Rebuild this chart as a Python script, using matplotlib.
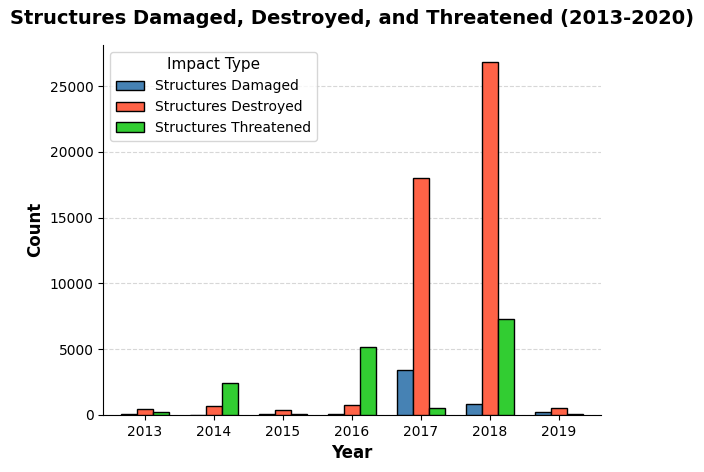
import numpy as np
import matplotlib
matplotlib.use("Agg")
import matplotlib.pyplot as plt

years = ["2013", "2014", "2015", "2016", "2017", "2018", "2019"]
damaged = [70, 20, 60, 50, 3430, 840, 230]
destroyed = [435, 690, 360, 760, 17980, 26800, 510]
threatened = [230, 2440, 60, 5180, 510, 7320, 60]

fig, ax = plt.subplots(figsize=(7.04, 4.72), dpi=100)
x = np.arange(len(years))
w = 0.7 / 3

ax.bar(x - w, damaged, w, color="#4682B4", edgecolor="black", label="Structures Damaged", zorder=3)
ax.bar(x, destroyed, w, color="#FF6347", edgecolor="black", label="Structures Destroyed", zorder=3)
ax.bar(x + w, threatened, w, color="#32CD32", edgecolor="black", label="Structures Threatened", zorder=3)

ax.set_xticks(x)
ax.set_xticklabels(years)
ax.set_xlim(-0.6, len(years) - 1 + 0.6)
ax.set_xlabel("Year", fontsize=12, fontweight="bold")
ax.set_ylabel("Count", fontsize=12, fontweight="bold")
ax.set_title("Structures Damaged, Destroyed, and Threatened (2013-2020)", fontsize=14, fontweight="bold", pad=15)
ax.grid(axis="y", linestyle="--", alpha=0.5, zorder=0)
ax.spines["top"].set_visible(False)
ax.spines["right"].set_visible(False)
ax.legend(title="Impact Type", title_fontsize=11, loc="upper left")

fig.subplots_adjust(left=0.147, right=0.853, top=0.905, bottom=0.121)
fig.savefig("out.png", dpi=100)
